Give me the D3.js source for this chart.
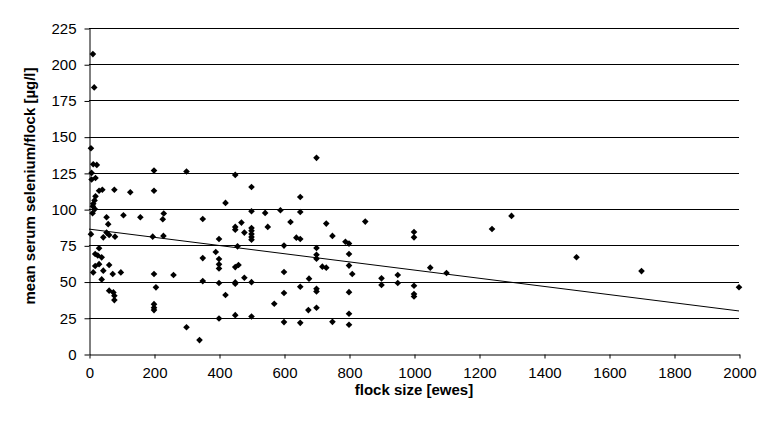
<!DOCTYPE html>
<html>
<head>
<meta charset="utf-8">
<script src="https://cdn.jsdelivr.net/npm/d3@7"></script>
<style>
  body { margin: 0; background: #fff; }
  text { font-family: Arial, "Liberation Sans", sans-serif; fill: #000; }
</style>
</head>
<body>
<script>
// flock size (ewes) and mean serum selenium per flock (µg/l)
var flockSize = [
  12, 16, 6, 13, 24, 8, 8, 20, 31, 41, 78, 127, 200, 200,
  20, 17, 13, 12, 18, 11, 54, 106, 158, 230, 227, 59,
  6, 44, 54, 62, 80, 196, 229, 31, 19, 27, 39, 31, 19, 62,
  13, 44, 73, 98, 200, 260, 39, 206, 62, 75, 78, 78, 200, 200, 200,
  300, 300, 340, 350, 350, 350, 390, 400, 400, 400, 400, 400, 400,
  420, 420, 450, 450, 450, 450, 460, 450, 450, 450, 457, 469, 478, 478,
  500, 500, 500, 500, 500, 500, 500, 500, 500, 542, 550, 570, 589,
  600, 600, 600, 600, 620, 638, 650, 650, 650, 650, 650, 675, 677,
  700, 700, 700, 700, 700, 700, 700, 718, 730, 730, 749, 749,
  789, 800, 800, 800, 810, 800, 800, 800, 850, 900, 900, 950, 950,
  1000, 1000, 1000, 1000, 1000, 1050, 1100, 1240, 1300, 1500, 1700, 2000
];
var selenium = [
  207, 184, 142, 131, 130.5, 125, 120.4, 121.5, 112.7, 113.4, 113.4, 111.6, 126.6, 112.7,
  108.8, 106, 103.7, 101.9, 100, 97.2, 94.4, 95.8, 94.4, 97, 93, 89.6,
  82.7, 80.5, 83.8, 82.1, 81, 81, 81.5, 73, 69, 68, 66.7, 62, 60.7, 61.4,
  56.3, 57.5, 55.2, 56.3, 55.2, 54.5, 51.5, 46, 43.7, 42.5, 40.2, 37.2, 34.4, 32, 30.3,
  126, 18.5, 9.6, 93.2, 66.2, 50.3, 70.4, 79.4, 65.6, 61.9, 59, 49, 24.5,
  104.3, 40.7, 123.6, 87.7, 85.8, 60, 61.4, 49.4, 48.5, 26.8, 74.3, 90.7, 83.8, 52.6,
  115.3, 98.5, 87, 85.1, 82.8, 80.8, 78.9, 49.6, 25.9, 97.4, 87.7, 34.7, 99.2,
  74.8, 56.6, 42.1, 22, 91.1, 80.3, 79.4, 108.4, 98, 46.4, 21.5, 30.3, 52,
  135.4, 73.2, 68.5, 65.8, 45, 43.2, 31.9, 60.3, 59.6, 90, 81.5, 22.2,
  77.5, 76.2, 69, 61, 55.2, 42.7, 27.8, 20.2, 91.4, 52.2, 47.6, 54.5, 49,
  84.2, 80.5, 47.1, 41.4, 39.7, 59.6, 55.9, 86.3, 95.3, 66.8, 57.2, 46.1
];
// linear trend line end points
var trendX = [0, 2000];
var trendY = [86.2, 29.7];

var xTicks = d3.range(0, 2001, 200);
var yTicks = d3.range(0, 226, 25);

var W = 775, H = 435;
var margin = { top: 28, right: 36, bottom: 81, left: 89 };

var svg = d3.select("body").append("svg")
  .attr("width", W)
  .attr("height", H);

var x = d3.scaleLinear().domain([0, 2000]).range([margin.left, W - margin.right]);
var y = d3.scaleLinear().domain([0, 225]).range([H - margin.bottom, margin.top]);

// horizontal gridlines
svg.append("g")
  .selectAll("line")
  .data(yTicks.filter(function(d) { return d > 0; }))
  .enter().append("line")
  .attr("x1", x(0)).attr("x2", x(2000))
  .attr("y1", function(d) { return Math.round(y(d)) + 0.5; })
  .attr("y2", function(d) { return Math.round(y(d)) + 0.5; })
  .attr("stroke", "#000")
  .attr("stroke-width", 1);

// y axis
var yAxis = svg.append("g")
  .attr("transform", "translate(" + (x(0) + 0.5) + ",0.5)")
  .call(d3.axisLeft(y).tickValues(yTicks).tickSize(5).tickSizeOuter(0).tickPadding(8));
yAxis.selectAll("text").style("font-size", "15px");

// x axis
var xAxis = svg.append("g")
  .attr("transform", "translate(0.5," + (Math.round(y(0)) + 0.5) + ")")
  .call(d3.axisBottom(x).tickValues(xTicks).tickFormat(d3.format("d"))
    .tickSize(4).tickSizeOuter(0).tickPadding(9));
xAxis.selectAll("text").style("font-size", "15px");

svg.selectAll(".domain, .tick line").attr("stroke", "#000");

// trend line
svg.append("line")
  .attr("x1", x(trendX[0])).attr("y1", y(trendY[0]))
  .attr("x2", x(trendX[1])).attr("y2", y(trendY[1]))
  .attr("stroke", "#000")
  .attr("stroke-width", 1);

// points
var pts = flockSize.map(function(d, i) { return [d, selenium[i]]; });
svg.append("g")
  .selectAll("path")
  .data(pts)
  .enter().append("path")
  .attr("d", d3.symbol().type(d3.symbolDiamond2).size(28))
  .attr("transform", function(d) { return "translate(" + x(d[0]) + "," + y(d[1]) + ")"; })
  .attr("fill", "#000");

// axis titles
svg.append("text")
  .attr("x", (x(0) + x(2000)) / 2)
  .attr("y", 395)
  .attr("text-anchor", "middle")
  .style("font-size", "15px")
  .style("font-weight", "bold")
  .text("flock size [ewes]");

svg.append("text")
  .attr("transform", "translate(35," + 186 + ") rotate(-90)")
  .attr("text-anchor", "middle")
  .style("font-size", "15px")
  .style("font-weight", "bold")
  .text("mean serum selenium/flock [µg/l]");
</script>
</body>
</html>
